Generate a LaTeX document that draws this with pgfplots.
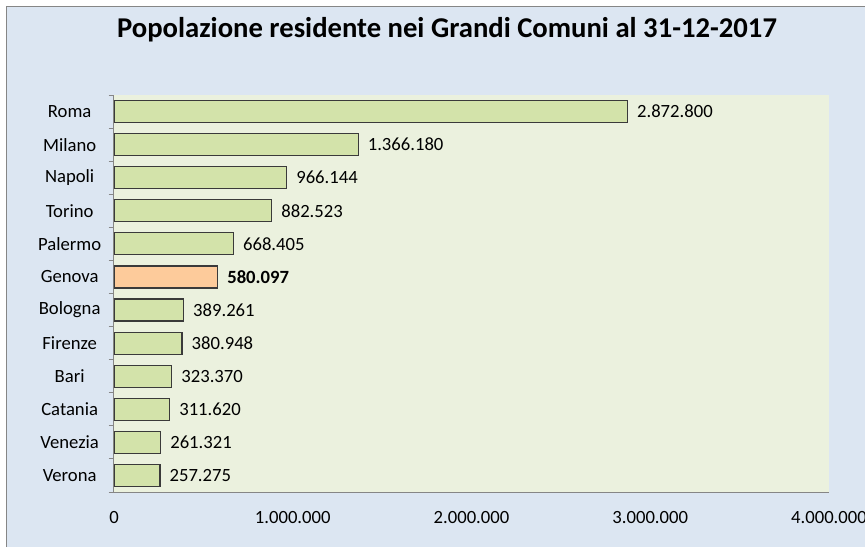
\documentclass[border=0pt]{standalone}
\usepackage{pgfplots}
\pgfplotsset{compat=1.18}
\usepackage{fontspec}
\setmainfont{Carlito}
\definecolor{bgblue}{HTML}{DCE6F2}
\definecolor{plotbg}{HTML}{EBF1DE}
\definecolor{bargreen}{HTML}{D3E3AA}
\definecolor{barorange}{HTML}{FDCB9B}
\definecolor{axisgray}{HTML}{868686}
\definecolor{baredge}{HTML}{3A3A3A}
\begin{document}
\begin{tikzpicture}
\path[use as bounding box] (-85.5pt,-41.25pt) rectangle (563.25pt,369pt);
\fill[white] (-85.5pt,-41.25pt) rectangle (563.25pt,369pt);
\fill[bgblue] (-80.25pt,-41.25pt) rectangle (563.25pt,363.75pt);
\draw[axisgray, line width=0.75pt] (-80.25pt,-41.25pt) -- (-80.25pt,363.75pt) -- (563.25pt,363.75pt);
\begin{axis}[
  at={(0,0)}, anchor=south west,
  scale only axis, width=536.25pt, height=297.75pt,
  xbar, bar shift=0pt, bar width=0.665,
  xmin=0, xmax=4000000,
  ymin=-0.5, ymax=11.5, y dir=reverse,
  axis background/.style={fill=plotbg},
  axis x line*=bottom, axis y line*=left,
  axis line style={axisgray, line width=0.75pt, -},
  scaled x ticks=false,
  xtick={0,1000000,2000000,3000000,4000000},
  major x tick style={draw=none},
  ytick={0,1,2,3,4,5,6,7,8,9,10,11},
  yticklabels={Roma,Milano,Napoli,Torino,Palermo,Genova,Bologna,Firenze,Bari,Catania,Venezia,Verona},
  major y tick style={draw=none},
  minor ytick={-0.5,0.5,1.5,2.5,3.5,4.5,5.5,6.5,7.5,8.5,9.5,10.5,11.5},
  minor y tick style={axisgray, line width=0.75pt},
  tick align=outside,
  minor tick length=4pt,
  xticklabel style={anchor=center, yshift=-14.5pt, font=\fontsize{14}{17}\selectfont},
  yticklabel style={anchor=center, xshift=-29pt, font=\fontsize{14}{17}\selectfont},
  nodes near coords,
  every node near coord/.append style={anchor=west, inner sep=0pt, xshift=6.75pt, font=\fontsize{14}{17}\selectfont, text=black},
  /pgf/number format/fixed,
  /pgf/number format/1000 sep={.},
  /pgf/number format/assume math mode=true,
]
\addplot[fill=bargreen, draw=baredge, line width=0.9pt] coordinates {
(2872800,0) (1366180,1) (966144,2) (882523,3) (668405,4)
(389261,6) (380948,7) (323370,8) (311620,9) (261321,10) (257275,11)};
\addplot[fill=barorange, draw=baredge, line width=0.9pt,
  every node near coord/.append style={font=\bfseries\fontsize{14}{17}\selectfont}] coordinates {(580097,5)};
\end{axis}
\node[anchor=base, font=\bfseries\fontsize{21.5}{26}\selectfont] at (249.75pt,340.5pt) {Popolazione residente nei Grandi Comuni al 31-12-2017};
\end{tikzpicture}
\end{document}
